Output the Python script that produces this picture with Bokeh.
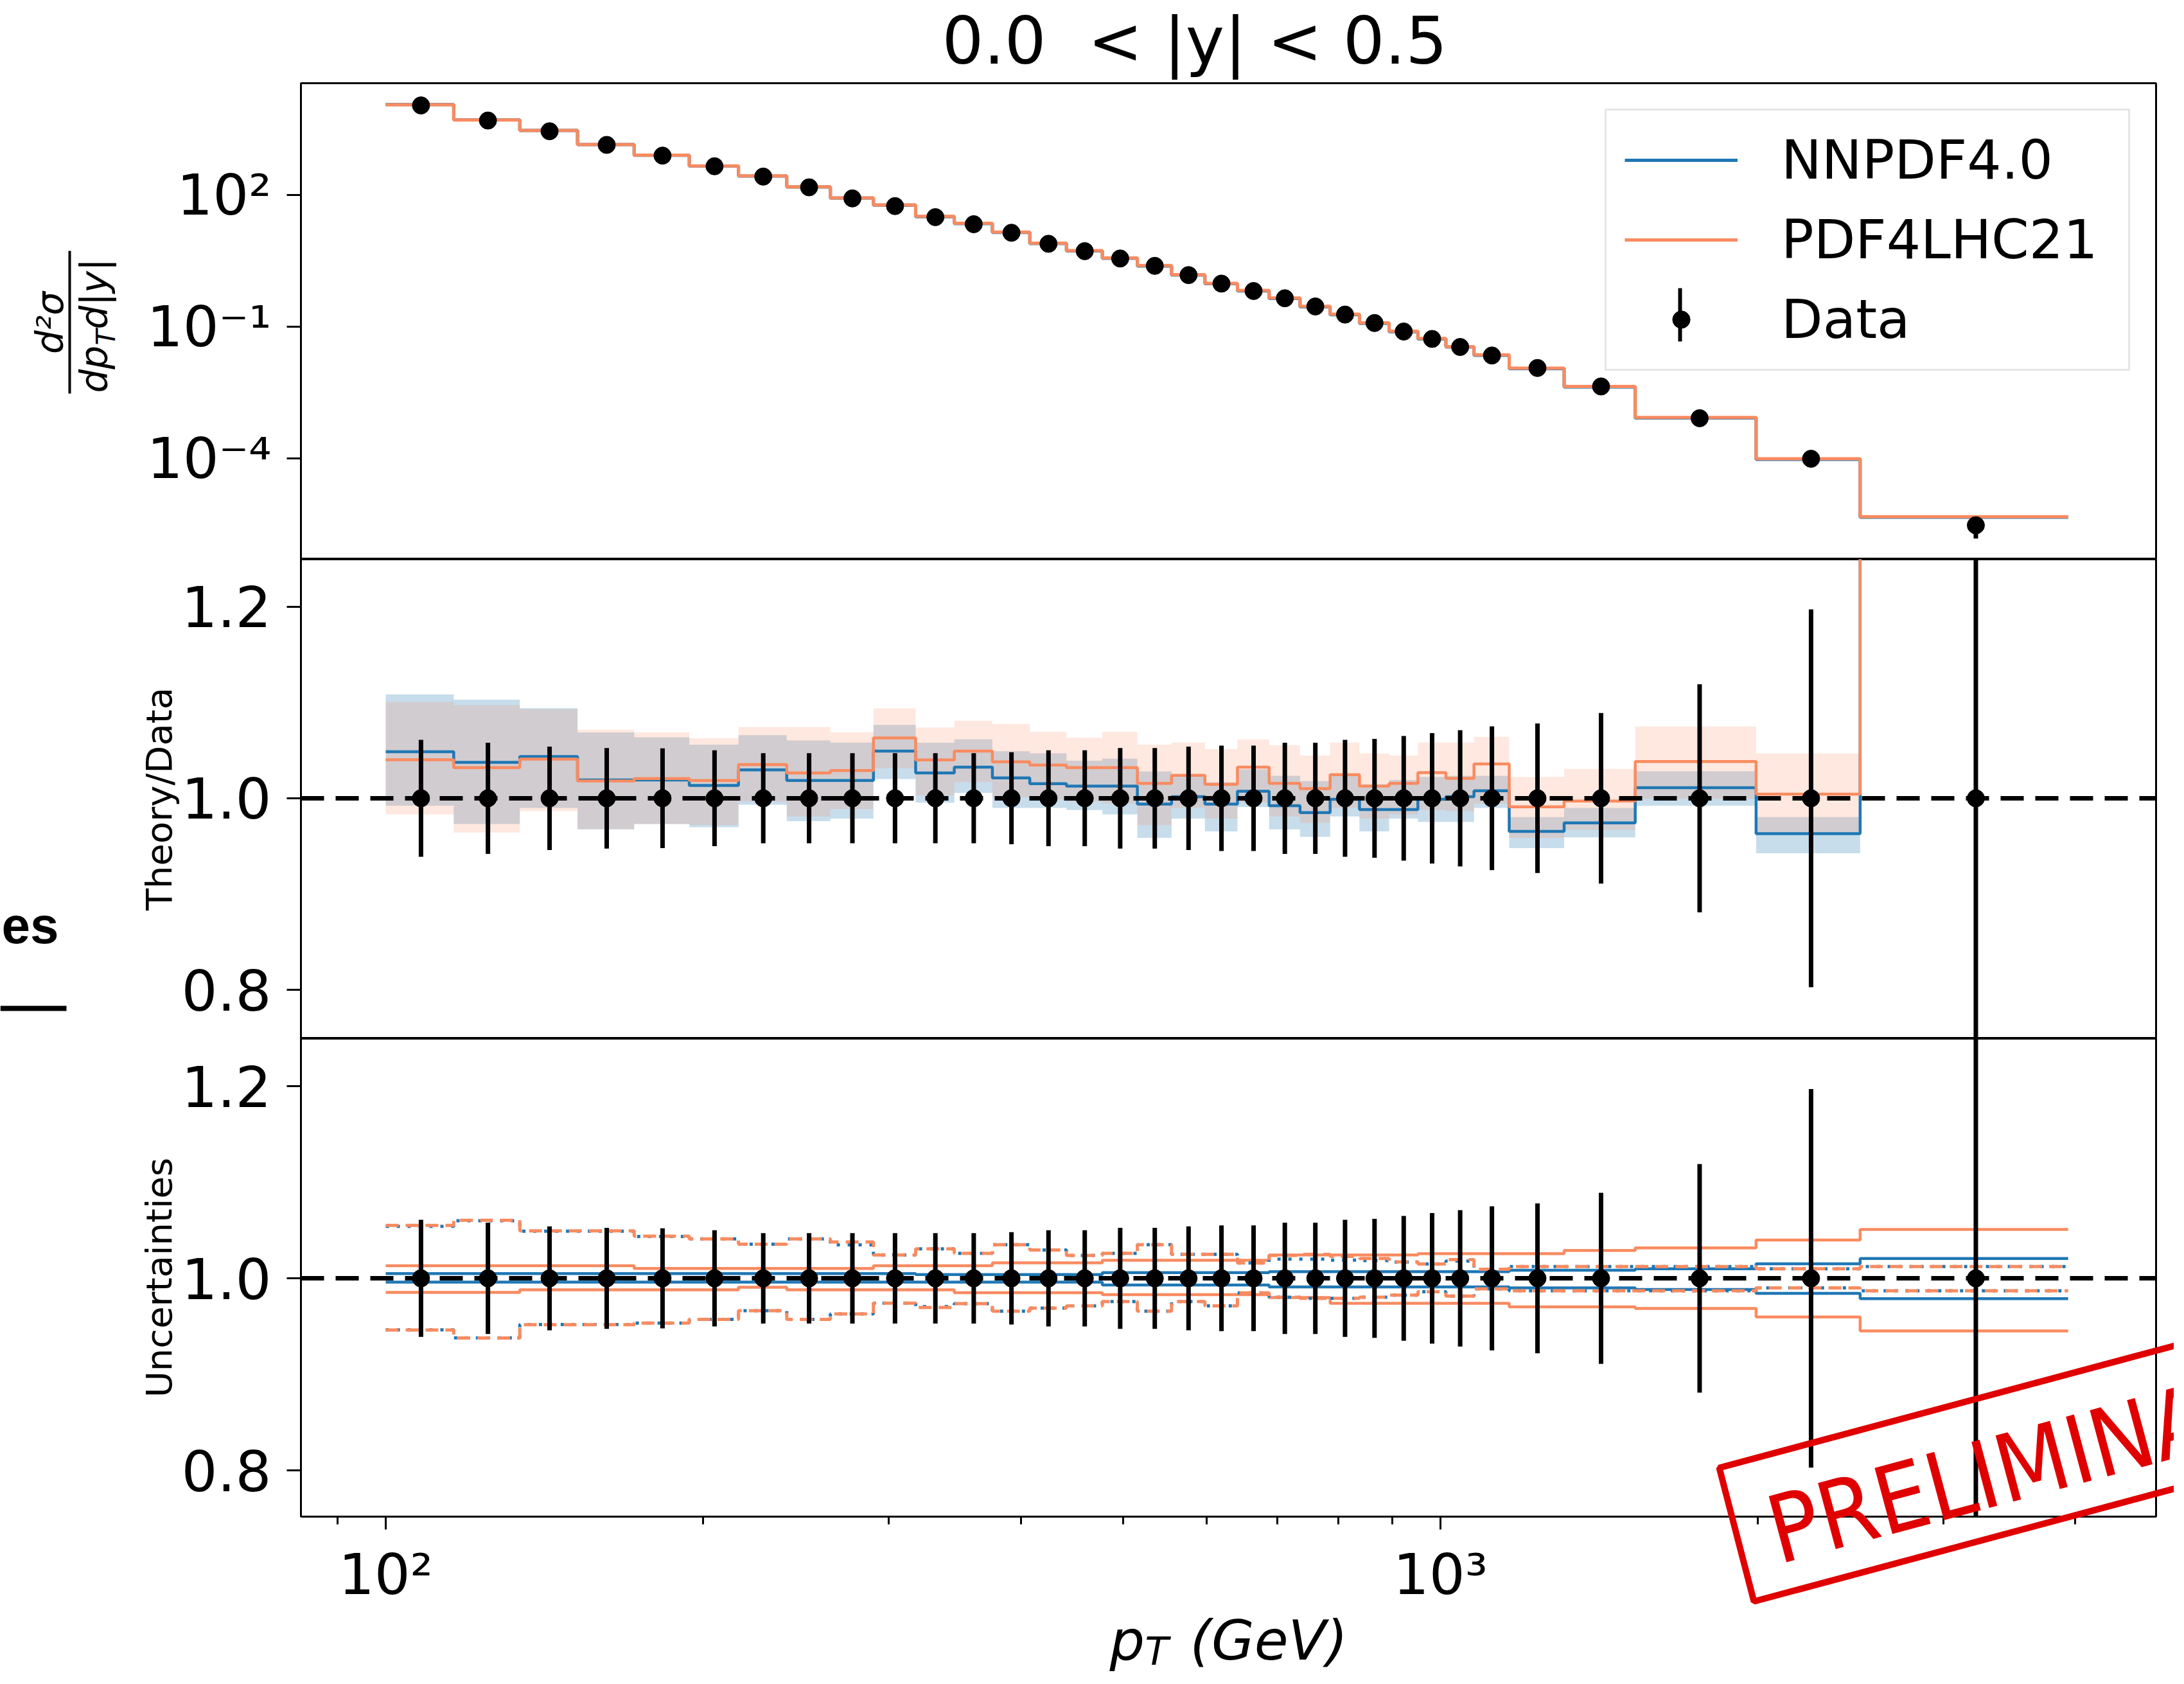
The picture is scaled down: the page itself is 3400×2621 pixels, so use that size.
import math
from bokeh.plotting import figure
from bokeh.layouts import column
from bokeh.models import (Range1d, FixedTicker, CustomJSTickFormatter, Span, Legend, LegendItem,
                          Label, PolyAnnotation)
from bokeh.embed import file_html
from bokeh.resources import INLINE

# ---------------- data ----------------
pt_edges = [100, 116, 134, 152, 172, 194, 216, 240, 264, 290, 318, 346, 376, 408, 442, 478, 516,
            556, 598, 642, 688, 736, 786, 838, 894, 952, 1012, 1076, 1162, 1310, 1530, 1992, 2500, 3937]
pt_center = [108, 125, 143, 162, 183, 205, 228, 252, 277, 304, 332, 361, 392, 425, 460, 497, 536,
             577, 620, 665, 712, 761, 812, 866, 923, 982, 1044, 1119, 1236, 1420, 1761, 2246, 3218.5]
xsec = [10740, 4864, 2773, 1358, 774, 443, 258, 147, 82.2, 55.0, 30.8, 21.3, 13.6, 7.64, 5.19, 3.53,
        2.40, 1.48, 0.948, 0.643, 0.439, 0.286, 0.187, 0.120, 0.0769, 0.0522, 0.0342, 0.0219, 0.0114,
        0.00433, 0.00082, 0.000098, 0.0000030]
rel_err = [0.061, 0.058, 0.054, 0.0525, 0.052, 0.050, 0.047, 0.047, 0.047, 0.047, 0.047, 0.047, 0.048,
           0.050, 0.050, 0.0525, 0.0525, 0.054, 0.055, 0.055, 0.058, 0.058, 0.061, 0.062, 0.065, 0.068,
           0.071, 0.075, 0.078, 0.089, 0.119, 0.197, 0.50]

# Theory / Data
nn_ratio = [1.0485, 1.0375, 1.0436, 1.019, 1.019, 1.0134, 1.0297, 1.0185, 1.0185, 1.0492, 1.0264, 1.0324,
            1.0212, 1.0152, 1.0127, 1.0127, 0.994, 1.0016, 0.994, 1.0074, 0.9922, 0.985, 0.9989, 0.9882,
            0.9882, 0.9989, 1.0016, 1.0079, 0.9655, 0.9744, 1.011, 0.9631, 1.53]
nn_lo = [0.9922, 0.9732, 0.990, 0.9676, 0.9732, 0.9698, 0.9933, 0.9761, 0.9788, 1.0201, 0.9955, 1.0056,
         0.990, 0.990, 0.9877, 0.9832, 0.9587, 0.9788, 0.9654, 0.991, 0.9676, 0.9598, 0.981, 0.9654,
         0.9788, 0.9754, 0.9754, 0.990, 0.948, 0.9593, 0.9923, 0.9426, 1.49]
nn_hi = [1.1084, 1.1028, 1.094, 1.0686, 1.0637, 1.0559, 1.0659, 1.0603, 1.0581, 1.0766, 1.058, 1.0614,
         1.049, 1.0469, 1.0391, 1.0413, 1.0279, 1.0246, 1.0168, 1.0302, 1.0235, 1.0179, 1.0235, 1.0145,
         1.019, 1.0223, 1.0235, 1.0235, 0.9804, 0.990, 1.0282, 0.9804, 1.57]
p4_ratio = [1.0402, 1.0319, 1.0409, 1.018, 1.0206, 1.0185, 1.0351, 1.0264, 1.029, 1.063, 1.040, 1.0492,
            1.038, 1.0346, 1.0319, 1.0319, 1.0156, 1.0239, 1.0145, 1.0324, 1.0156, 1.010, 1.0246, 1.0127,
            1.0156, 1.0268, 1.0208, 1.0359, 0.9911, 0.9971, 1.0383, 1.0043, 1.56]
p4_lo = [0.9832, 0.9643, 0.9866, 0.9676, 0.9732, 0.9721, 0.9966, 0.981, 0.9888, 1.0313, 1.003, 1.0168,
         1.001, 0.9989, 0.9966, 0.9944, 0.972, 0.990, 0.9788, 0.9955, 0.981, 0.9743, 0.990, 0.9788,
         0.9832, 0.9877, 0.9866, 0.9945, 0.9588, 0.9672, 0.9995, 0.9636, 1.50]
p4_hi = [1.1005, 1.0972, 1.093, 1.0715, 1.0686, 1.0626, 1.0744, 1.0744, 1.0686, 1.0938, 1.0737, 1.0809,
         1.0775, 1.0693, 1.0632, 1.0693, 1.0559, 1.0581, 1.0514, 1.0614, 1.0552, 1.0447, 1.0581, 1.0469,
         1.0447, 1.0581, 1.0581, 1.0641, 1.0223, 1.0306, 1.0749, 1.0469, 1.62]

# Uncertainties panel
nn_pdf_up = [1.005, 1.005, 1.005, 1.005, 1.005, 1.005, 1.005, 1.005, 1.005, 1.005, 1.004, 1.004, 1.004,
             1.004, 1.004, 1.006, 1.006, 1.006, 1.006, 1.006, 1.007, 1.007, 1.007, 1.007, 1.007, 1.007,
             1.007, 1.007, 1.0085, 1.0085, 1.010, 1.0152, 1.0206]
nn_pdf_dn = [0.996, 0.996, 0.996, 0.996, 0.996, 0.996, 0.996, 0.996, 0.996, 0.996, 0.996, 0.996, 0.996,
             0.996, 0.996, 0.993, 0.993, 0.993, 0.993, 0.993, 0.991, 0.991, 0.991, 0.991, 0.991, 0.991,
             0.991, 0.991, 0.990, 0.990, 0.9884, 0.9844, 0.9788]
p4_pdf_up = [1.0132, 1.0132, 1.0132, 1.0132, 1.0103, 1.0103, 1.0103, 1.0103, 1.0103, 1.0132, 1.0132,
             1.0132, 1.0161, 1.0161, 1.0161, 1.0188, 1.0188, 1.0188, 1.0188, 1.0188, 1.0244, 1.0244,
             1.0244, 1.0244, 1.0244, 1.0257, 1.0257, 1.0257, 1.0257, 1.029, 1.0317, 1.0398, 1.0509]
p4_pdf_dn = [0.9853, 0.9853, 0.988, 0.988, 0.988, 0.988, 0.9908, 0.988, 0.988, 0.988, 0.988, 0.985,
             0.985, 0.985, 0.985, 0.983, 0.983, 0.983, 0.983, 0.983, 0.980, 0.980, 0.974, 0.974, 0.974,
             0.974, 0.974, 0.974, 0.9703, 0.9703, 0.9687, 0.9598, 0.9453]
p4_scale_up = [1.055, 1.0605, 1.0494, 1.0494, 1.0438, 1.0411, 1.0355, 1.0411, 1.0378, 1.0244, 1.0306,
               1.026, 1.035, 1.0295, 1.0239, 1.026, 1.035, 1.025, 1.025, 1.016, 1.0239, 1.025, 1.0228,
               1.0206, 1.0172, 1.015, 1.0194, 1.0094, 1.0123, 1.0123, 1.0123, 1.010, 1.0123]
p4_scale_dn = [0.9462, 0.9379, 0.9517, 0.9517, 0.9535, 0.9573, 0.9663, 0.9573, 0.9629, 0.9741, 0.9696,
               0.9736, 0.9658, 0.969, 0.9714, 0.9759, 0.9658, 0.9759, 0.9714, 0.9848, 0.9803, 0.9792,
               0.9792, 0.9803, 0.9826, 0.986, 0.9815, 0.989, 0.987, 0.987, 0.987, 0.990, 0.987]
nn_scale_up = [1.054, 1.060, 1.049, 1.049, 1.0435, 1.041, 1.0355, 1.041, 1.0349, 1.0244, 1.0306,
               1.026, 1.035, 1.0295, 1.0239, 1.026, 1.035, 1.025, 1.025, 1.016, 1.020, 1.020, 1.019,
               1.0185, 1.017, 1.015, 1.018, 1.0094, 1.0123, 1.0123, 1.0123, 1.010, 1.0123]
nn_scale_dn = [0.9465, 0.938, 0.952, 0.952, 0.9535, 0.9573, 0.9663, 0.9573, 0.9629, 0.9741, 0.9707,
               0.9736, 0.9658, 0.969, 0.9714, 0.9759, 0.9658, 0.9759, 0.9714, 0.9848, 0.9803, 0.9792,
               0.9792, 0.9803, 0.9826, 0.986, 0.9815, 0.989, 0.987, 0.987, 0.987, 0.990, 0.987]

legend_labels = ["NNPDF4.0", "PDF4LHC21", "Data"]
title_text = "0.0\u00a0 < |y| < 0.5"

# ---------------- helpers ----------------
BLUE = "#1f77b4"
ORANGE = "#f98b60"
RED = "#e00000"
FONT = "DejaVu Sans"


def ext(a):
    return list(a) + [a[-1]]


def mul(a, b):
    return [u * v for u, v in zip(a, b)]


sup_fmt = CustomJSTickFormatter(code="""
const e = Math.round(Math.log10(tick));
const m = {"-": "\u207b", "0": "\u2070", "1": "\u00b9", "2": "\u00b2", "3": "\u00b3", "4": "\u2074",
           "5": "\u2075", "6": "\u2076", "7": "\u2077", "8": "\u2078", "9": "\u2079"};
return "10" + String(e).split("").map(c => m[c]).join("");
""")

W = 3384
H = 2605
FL, FR = 468, 3356          # frame left / right (page px)
xr = Range1d(83.1, 4770)
common = dict(width=W, x_axis_type="log", x_range=xr, output_backend="svg", toolbar_location=None,
              min_border_left=FL, min_border_right=W - FR)


def style(p):
    p.outline_line_color = "black"
    p.outline_line_width = 3
    p.grid.visible = False
    p.background_fill_color = "white"
    p.border_fill_color = "white"
    for ax in p.yaxis:
        ax.axis_line_width = 3
        ax.axis_line_color = "black"
        ax.major_tick_line_width = 3
        ax.major_tick_line_color = "black"
        ax.major_tick_out = 22
        ax.major_tick_in = 0
        ax.minor_tick_line_color = None
        ax.major_label_text_font = FONT
        ax.major_label_text_font_size = "88px"
        ax.major_label_text_color = "black"
        ax.major_label_standoff = 24
        ax.axis_label_text_font = FONT
        ax.axis_label_text_font_style = "normal"
        ax.axis_label_text_font_size = "56px"
        ax.axis_label_text_color = "black"
        ax.axis_label_standoff = 0


# ---------------- top panel ----------------
p1 = figure(height=870, y_axis_type="log", y_range=Range1d(5.05e-7, 3.44e4), x_axis_location=None,
            min_border_top=129, min_border_bottom=0, **common)
style(p1)
p1.yaxis.ticker = FixedTicker(ticks=[1e-4, 1e-1, 1e2], minor_ticks=[])
p1.yaxis.formatter = sup_fmt

p1.varea_step(x=pt_edges, y1=ext(mul(xsec, nn_lo)), y2=ext(mul(xsec, nn_hi)), step_mode="after",
              fill_color=BLUE, fill_alpha=0.25)
p1.varea_step(x=pt_edges, y1=ext(mul(xsec, p4_lo)), y2=ext(mul(xsec, p4_hi)), step_mode="after",
              fill_color=ORANGE, fill_alpha=0.2)
r_nn = p1.step(x=pt_edges, y=ext(mul(xsec, nn_ratio)), mode="after", line_color=BLUE, line_width=5)
r_p4 = p1.step(x=pt_edges, y=ext(mul(xsec, p4_ratio)), mode="after", line_color=ORANGE, line_width=5)
p1.segment(x0=pt_center, x1=pt_center, y0=[d * (1 - e) for d, e in zip(xsec, rel_err)],
           y1=[d * (1 + e) for d, e in zip(xsec, rel_err)], line_color="black", line_width=7)
r_dat = p1.scatter(pt_center, xsec, size=27, color="black")

leg = Legend(items=[LegendItem(label=legend_labels[0], renderers=[r_nn]),
                    LegendItem(label=legend_labels[1], renderers=[r_p4]),
                    LegendItem(label=legend_labels[2], renderers=[r_dat])],
             location="top_right", margin=40, padding=28, spacing=26, glyph_width=176, glyph_height=68,
             label_standoff=68, label_width=512, label_text_font=FONT, label_text_font_size="84px",
             label_text_color="black",
             border_line_color="#cccccc", border_line_width=3, background_fill_alpha=0.8)
p1.add_layout(leg)

# ---------------- middle panel ----------------
p2 = figure(height=746, y_range=Range1d(0.7493, 1.2493), x_axis_location=None,
            min_border_top=0, min_border_bottom=0, **common)
style(p2)
p2.yaxis.ticker = FixedTicker(ticks=[0.8, 1.0, 1.2], minor_ticks=[])
p2.yaxis.formatter = CustomJSTickFormatter(code="return tick.toFixed(1);")
p2.yaxis.axis_label = "Theory/Data"

p2.varea_step(x=pt_edges, y1=ext(nn_lo), y2=ext(nn_hi), step_mode="after", fill_color=BLUE, fill_alpha=0.25)
p2.varea_step(x=pt_edges, y1=ext(p4_lo), y2=ext(p4_hi), step_mode="after", fill_color=ORANGE, fill_alpha=0.2)
p2.step(x=pt_edges, y=ext(nn_ratio), mode="after", line_color=BLUE, line_width=4.5)
p2.step(x=pt_edges, y=ext(p4_ratio), mode="after", line_color=ORANGE, line_width=4.5)
p2.add_layout(Span(location=1.0, dimension="width", line_color="black", line_width=7, line_dash="36 18"))
p2.segment(x0=pt_center, x1=pt_center, y0=[1 - e for e in rel_err], y1=[1 + e for e in rel_err],
           line_color="black", line_width=7)
p2.scatter(pt_center, [1.0] * len(pt_center), size=27, color="black")

# ---------------- bottom panel ----------------
p3 = figure(height=H - 870 - 746, y_range=Range1d(0.752, 1.2495), min_border_top=0,
            min_border_bottom=H - 870 - 746 - 744, **common)
style(p3)
p3.yaxis.ticker = FixedTicker(ticks=[0.8, 1.0, 1.2], minor_ticks=[])
p3.yaxis.formatter = CustomJSTickFormatter(code="return tick.toFixed(1);")
p3.yaxis.axis_label = "Uncertainties"
xa = p3.xaxis[0]
xa.ticker = FixedTicker(ticks=[100, 1000], minor_ticks=[90, 200, 300, 400, 500, 600, 700, 800, 900,
                                                         2000, 3000, 4000])
xa.formatter = sup_fmt
xa.axis_line_width = 3
xa.major_tick_line_width = 3
xa.minor_tick_line_width = 3
xa.major_tick_out = 20
xa.major_tick_in = 0
xa.minor_tick_out = 12
xa.minor_tick_in = 0
xa.major_label_text_font = FONT
xa.major_label_text_font_size = "88px"
xa.major_label_text_color = "black"
xa.major_label_standoff = 18

p3.step(x=pt_edges, y=ext(p4_pdf_up), mode="after", line_color=ORANGE, line_width=4.5)
p3.step(x=pt_edges, y=ext(p4_pdf_dn), mode="after", line_color=ORANGE, line_width=4.5)
p3.step(x=pt_edges, y=ext(nn_pdf_up), mode="after", line_color=BLUE, line_width=4.5)
p3.step(x=pt_edges, y=ext(nn_pdf_dn), mode="after", line_color=BLUE, line_width=4.5)
p3.step(x=pt_edges, y=ext(nn_scale_up), mode="after", line_color=BLUE, line_width=5, line_dash="5 12")
p3.step(x=pt_edges, y=ext(nn_scale_dn), mode="after", line_color=BLUE, line_width=5, line_dash="5 12")
p3.step(x=pt_edges, y=ext(p4_scale_up), mode="after", line_color=ORANGE, line_width=5, line_dash="20 11")
p3.step(x=pt_edges, y=ext(p4_scale_dn), mode="after", line_color=ORANGE, line_width=5, line_dash="20 11")
p3.add_layout(Span(location=1.0, dimension="width", line_color="black", line_width=7, line_dash="36 18"))
p3.segment(x0=pt_center, x1=pt_center, y0=[1 - e for e in rel_err], y1=[1 + e for e in rel_err],
           line_color="black", line_width=7)
p3.scatter(pt_center, [1.0] * len(pt_center), size=27, color="black")

# ---------------- transparent overlay for texts outside the frames ----------------
# coordinates of this overlay are page pixels (x right, y down), laid over the three panels
ov = figure(width=W, height=H, x_range=Range1d(0, W), y_range=Range1d(H, 0),
            x_axis_location=None, y_axis_location=None, toolbar_location=None, output_backend="svg",
            min_border=0, outline_line_color=None, background_fill_color=None, border_fill_color=None,
            margin=(-H, 0, 0, 0))
ov.grid.visible = False
try:
    ov.frame_align = False
except AttributeError:
    ov.min_border_left = FL
    ov.min_border_right = W - FR
    ov.x_range = Range1d(FL, FR)

BASE = 0.34   # baseline correction (fraction of font size) for rendered labels


def olab(text, x, y, size, angle=0.0, color="black", **kw):
    # (x, y) is the wanted baseline anchor; shift it "up" in the text frame
    d = BASE * size
    ax = x - d * math.sin(angle)
    ay = y - d * math.cos(angle)
    ov.add_layout(Label(x=ax, y=ay, text=text, angle=angle, text_baseline="alphabetic",
                        text_font_size=f"{size}px", text_color=color, **kw))


def opoly(xs, ys, color="black"):
    ov.add_layout(PolyAnnotation(xs=xs, ys=ys, fill_color=color, fill_alpha=1.0, line_alpha=0))


# title
olab(title_text, 1466, 98, 102, text_align="left", text_font=FONT)

R90 = 1.5708
# y label of top panel: d^2 sigma / (dp_T d|y|)
olab("d\u00b2\u03c3", 97, 502, 58, angle=R90, text_align="center", text_font=FONT, text_font_style="italic")
opoly([106, 110, 110, 106], [390, 390, 612, 612])
olab("dp", 166, 611, 58, angle=R90, text_align="left", text_font=FONT, text_font_style="italic")
olab("T", 178, 537, 41, angle=R90, text_align="left", text_font=FONT, text_font_style="italic")
olab("d|y|", 166, 512, 58, angle=R90, text_align="left", text_font=FONT, text_font_style="italic")

# vertical stroke of the "Data" legend glyph (error bar)
opoly([2612, 2618, 2618, 2612], [448, 448, 531, 531])

# x-axis label  p_T (GeV)
olab("p", 1727, 2582, 86, text_align="left", text_font=FONT, text_font_style="italic")
olab("T", 1782, 2590, 60, text_align="left", text_font=FONT, text_font_style="italic")
olab("(GeV)", 1852, 2582, 86, text_align="left", text_font=FONT, text_font_style="italic")

# clipped fragment of neighbouring slide text
olab("es", 2, 1467, 80, text_align="left", text_font="Liberation Sans", text_font_style="bold")
opoly([0, 103, 103, 0], [1565, 1565, 1573, 1573])

# PRELIMINARY stamp
stamp_x = [2676, 3642, 3696, 2730]
stamp_y = [2284, 2025, 2233, 2492]
ov.add_layout(PolyAnnotation(xs=stamp_x, ys=stamp_y, fill_alpha=0, line_color=RED,
                             line_alpha=1.0, line_width=10))
olab("PRELIMINARY", 2768, 2433, 146, angle=0.2618, color=RED, text_align="left",
     text_font="Liberation Sans Narrow, DejaVu Sans Condensed, sans-serif")

layout = column(p1, p2, p3, ov, spacing=0)
open("out.html", "w").write(file_html(layout, INLINE))
